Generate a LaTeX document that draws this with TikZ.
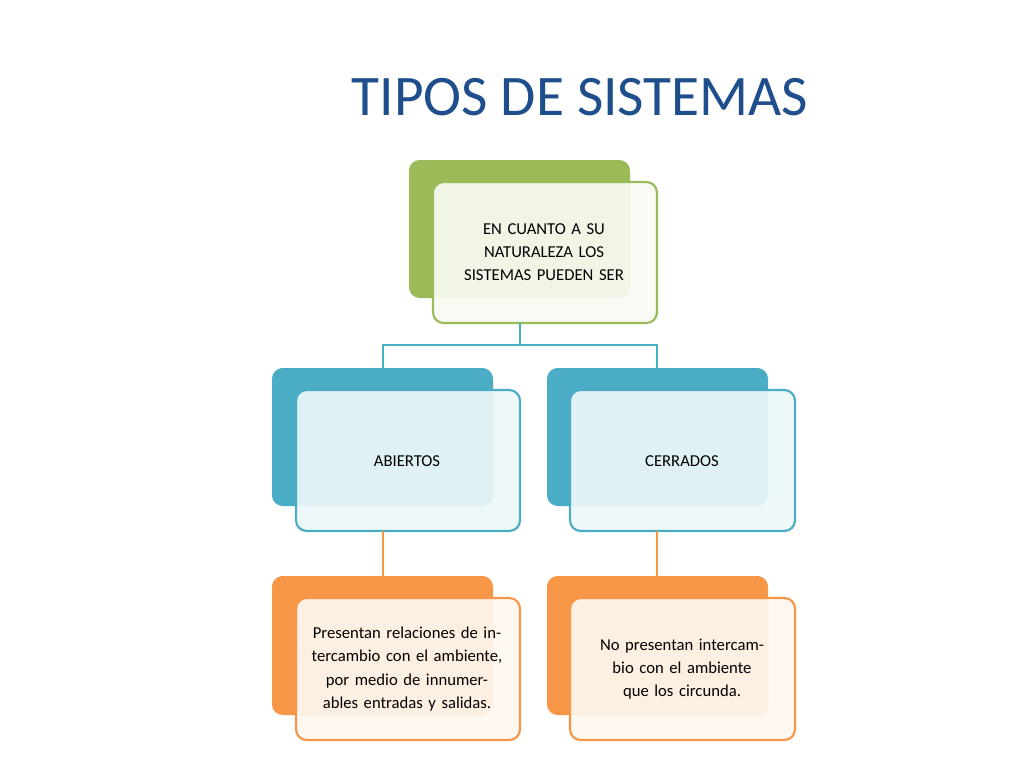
\documentclass[tikz,border=0pt]{standalone}
\usepackage{fontspec}
\setmainfont{Carlito}
\definecolor{tgreen}{HTML}{9BBB59}
\definecolor{tblue}{HTML}{4BACC6}
\definecolor{torange}{HTML}{F79646}
\definecolor{ttitle}{HTML}{1F4E8C}
\begin{document}
\begin{tikzpicture}[x=0.75pt,y=-0.75pt,
  back/.style={rounded corners=8pt},
  front/.style={rounded corners=8pt,line width=1.6pt,fill opacity=0.92,text opacity=1},
  txt/.style={align=center,font=\fontsize{12.5}{17.5}\selectfont,text width=150pt},
  conn/.style={line width=1.6pt}]
\useasboundingbox (0,0) rectangle (1024,768);
\node[text=ttitle,font=\fontsize{43}{50}\selectfont] (title) at (580,97) {TIPOS DE SISTEMAS};
% top
\fill[back,tgreen] (409,160) rectangle (630,298);
\draw[front,draw=tgreen,fill=white!93!tgreen] (433,182) rectangle (657,323);
\node[txt] (top) at (544,252) {EN CUANTO A SU\\NATURALEZA LOS\\SISTEMAS PUEDEN SER};
\coordinate (tb) at (520,323);
% blue
\fill[back,tblue] (272,368) rectangle (493,506);
\draw[front,draw=tblue,fill=white!90!tblue] (296,390) rectangle (520,531);
\node[txt] (ab) at (407,461) {ABIERTOS};
\fill[back,tblue] (547,368) rectangle (768,506);
\draw[front,draw=tblue,fill=white!90!tblue] (570,390) rectangle (795,531);
\node[txt] (ce) at (682,461) {CERRADOS};
\coordinate (abt) at (383,368); \coordinate (cet) at (657,368);
\draw[conn,tblue] (tb) -- (520,345) -| (abt);
\draw[conn,tblue] (520,345) -| (cet);
% orange
\fill[back,torange] (272,576) rectangle (493,715);
\draw[front,draw=torange,fill=white!92!torange] (296,598) rectangle (520,740);
\node[txt] (p1) at (407,669) {Presentan relaciones de intercambio con el ambiente, por medio de innumerables entradas y salidas.};
\fill[back,torange] (547,576) rectangle (768,715);
\draw[front,draw=torange,fill=white!92!torange] (570,598) rectangle (795,740);
\node[txt,text width=125pt] (p2) at (682,669) {No presentan intercambio con el ambiente que los circunda.};
\coordinate (ab1) at (383,531); \coordinate (ab2) at (383,576);
\coordinate (ce1) at (657,531); \coordinate (ce2) at (657,576);
\draw[conn,torange] (ab1) -- (ab2);
\draw[conn,torange] (ce1) -- (ce2);
\end{tikzpicture}
\end{document}
